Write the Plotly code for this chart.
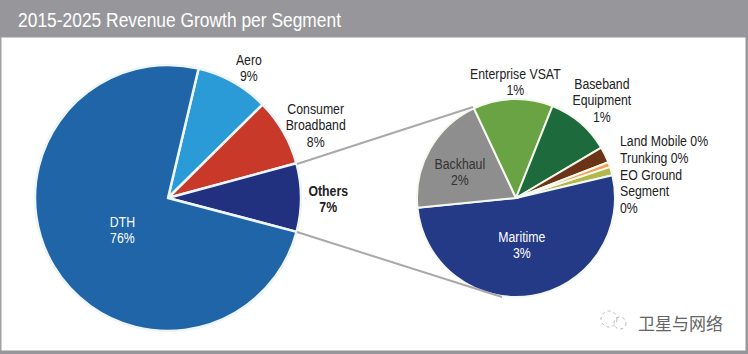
import plotly.graph_objects as go

W, H = 748, 354
TITLE = "2015-2025 Revenue Growth per Segment"
WATERMARK = "卫星与网络"

main_segments = ["Aero", "Consumer Broadband", "Others", "DTH"]
main_values = [8.9, 8.2, 8.3, 74.6]
main_colors = ["#2a9bd6", "#c9392a", "#21317f", "#2065a8"]

other_segments = ["EO Ground Segment", "Maritime", "Backhaul", "Enterprise VSAT",
                  "Baseband Equipment", "Land Mobile", "Trunking"]
other_values = [1.4, 52.1, 19.6, 13.0, 10.5, 2.6, 0.8]
other_colors = ["#b3b84c", "#243a86", "#8e8e8e", "#6aa343", "#1d6a3c", "#6b3416", "#f0a050"]

labels = [
    ("Aero<br>9%", 249, 69.5, "#222222"),
    ("Consumer<br>Broadband<br>8%", 315, 128, "#222222"),
    ("<b>Others</b><br><b>7%</b>", 328, 200, "#222222"),
    ("DTH<br>76%", 122, 231, "#ffffff"),
    ("Enterprise VSAT<br>1%", 515, 83, "#222222"),
    ("Baseband<br>Equipment<br>1%", 602, 103, "#222222"),
    ("Backhaul<br>2%", 460, 173, "#333333"),
    ("Maritime<br>3%", 522, 247, "#ffffff"),
]
left_labels = [
    ("Land Mobile 0%", 618, 140),
    ("Trunking 0%", 618, 157),
    ("EO Ground<br>Segment<br>0%", 618, 194),
]


def px(x):
    return x / W


def py(y):
    return 1 - y / H


def pie_domain(cx, cy, r):
    return dict(x=[px(cx - r), px(cx + r)], y=[py(cy + r), py(cy - r)])


fig = go.Figure()
fig.add_trace(go.Pie(labels=main_segments, values=main_values, sort=False, direction="clockwise",
                     rotation=13.3, textinfo="none", hoverinfo="label+percent",
                     marker=dict(colors=main_colors, line=dict(color="#eef6fa", width=2.5)),
                     domain=pie_domain(168, 198, 133), showlegend=False))
fig.add_trace(go.Pie(labels=other_segments, values=other_values, sort=False, direction="clockwise",
                     rotation=71.7, textinfo="none", hoverinfo="label+percent",
                     marker=dict(colors=other_colors, line=dict(color="#f4f8ee", width=2)),
                     domain=pie_domain(516, 198, 99), showlegend=False))


def rect(x0, y0, x1, y1, color):
    return dict(type="rect", xref="paper", yref="paper", x0=px(x0), x1=px(x1), y0=py(y0), y1=py(y1),
                fillcolor=color, line=dict(width=0), layer="below")


def line(x0, y0, x1, y1):
    return dict(type="line", xref="paper", yref="paper", x0=px(x0), x1=px(x1), y0=py(y0), y1=py(y1),
                line=dict(color="#a9a9ac", width=2))


def ring(cx, cy, r):
    return dict(type="circle", xref="paper", yref="paper", x0=px(cx - r), x1=px(cx + r),
                y0=py(cy + r), y1=py(cy - r),
                line=dict(color="#b5b5b5", width=1, dash="dot"))


shapes = [
    rect(0, 0, W, 37.5, "#97979b"),
    rect(0, 37, 1.5, H, "#a0a0a4"),
    rect(745.5, 37, W, H, "#97979b"),
    rect(0, 350.5, W, H, "#97979b"),
    line(297, 164, 473, 107),
    line(297, 232, 502, 297),
    ring(609, 319, 8),
    ring(620, 323, 6),
]

FONT = "Liberation Sans, Arial, sans-serif"
annotations = [
    dict(text=TITLE, x=px(16), y=py(20), xref="paper", yref="paper", xanchor="left", yanchor="middle",
         showarrow=False, font=dict(family=FONT, size=20, color="#ffffff")),
    dict(text=WATERMARK, x=px(680), y=py(322), xref="paper", yref="paper", xanchor="center", yanchor="middle",
         showarrow=False, font=dict(family="Noto Sans CJK SC", size=17, color="#666666")),
]
for text, x, y, color in labels:
    annotations.append(dict(text=text, x=px(x), y=py(y), xref="paper", yref="paper", xanchor="center",
                            yanchor="middle", showarrow=False, align="center",
                            font=dict(family=FONT, size=15, color=color)))
for text, x, y in left_labels:
    annotations.append(dict(text=text, x=px(x), y=py(y), xref="paper", yref="paper", xanchor="left",
                            yanchor="middle", showarrow=False, align="left",
                            font=dict(family=FONT, size=15, color="#222222")))

fig.update_layout(width=W, height=H, margin=dict(l=0, r=0, t=0, b=0), paper_bgcolor="#ffffff",
                  shapes=shapes, annotations=annotations)

# Condense the real text horizontally to imitate the reference's narrow typeface.
post = """
document.body.style.margin='0';document.body.style.overflow='hidden';
document.querySelectorAll('text.annotation-text').forEach(function(t,i){
  var s=t.textContent;
  if(s.indexOf('卫星')>=0) return;
  var left=(i===0)||/^(Land Mobile|Trunking|EO Ground)/.test(s);
  t.style.transformBox='fill-box';
  t.style.transformOrigin=left?'left center':'center center';
  t.style.transform='scaleX('+(i===0?0.87:0.82)+')';
  t.querySelectorAll('tspan.line').forEach(function(l,k){
    l.setAttribute('dy',(k*1.1)+'em');
  });
});
"""
fig.write_html("out.html", post_script=post, config=dict(displayModeBar=False))
